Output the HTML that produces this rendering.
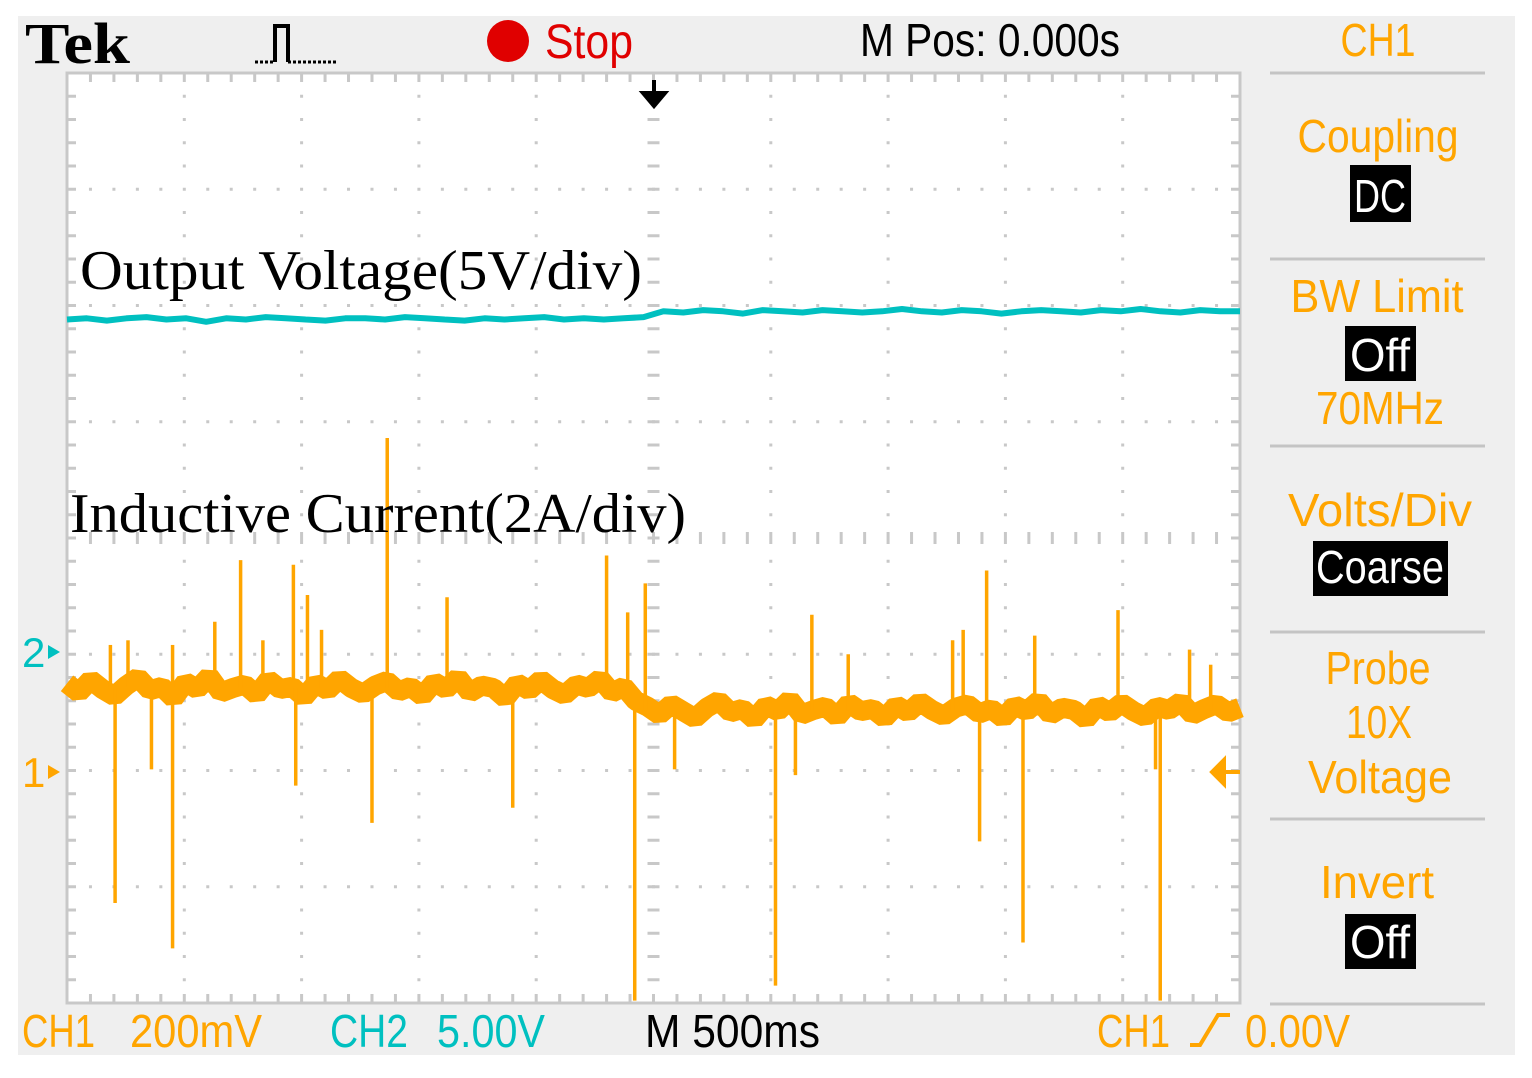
<!DOCTYPE html>
<html><head><meta charset="utf-8"><style>
html,body{margin:0;padding:0;background:#fff;}
svg{display:block;}
.osc{font-family:"Liberation Sans",sans-serif;}
</style></head><body>
<svg id="scope" width="1532" height="1078" viewBox="0 0 1532 1078" xmlns="http://www.w3.org/2000/svg">
<rect x="18" y="16" width="1497" height="1039" fill="#efefef"/>
<rect x="67" y="73" width="1173" height="930" fill="#fff"/>
<g id="grid"></g>
<rect x="67" y="73" width="1173" height="930" fill="none" stroke="#c8c8c8" stroke-width="3"/>
<g id="traces"></g>

<text x="25" y="63" font-family="Liberation Serif, serif" font-weight="bold" font-size="58" textLength="105" lengthAdjust="spacingAndGlyphs">Tek</text>
<path d="M255,62 H275 M288,62 H338" fill="none" stroke="#000" stroke-width="3" stroke-dasharray="3 2"/>
<path d="M275,62 V26 H288 V62" fill="none" stroke="#000" stroke-width="4"/>
<circle cx="508" cy="41" r="21" fill="#e00000"/>
<text class="osc" x="545" y="58" font-size="48" fill="#e00000" textLength="88" lengthAdjust="spacingAndGlyphs">Stop</text>
<text class="osc" x="860" y="56" font-size="46" fill="#000" textLength="260" lengthAdjust="spacingAndGlyphs">M Pos: 0.000s</text>
<path d="M654,80 V98 M643,93 L654,106 L665,93 Z" stroke="#000" stroke-width="4" fill="#000"/>

<text x="80" y="289" font-family="Liberation Serif, serif" font-size="56" fill="#000" textLength="562" lengthAdjust="spacingAndGlyphs">Output Voltage(5V/div)</text>
<text x="70" y="532" font-family="Liberation Serif, serif" font-size="56" fill="#000" textLength="616" lengthAdjust="spacingAndGlyphs">Inductive Current(2A/div)</text>

<text class="osc" x="22" y="667" font-size="42" fill="#00c0c0">2</text>
<path d="M48,645 L60,652 L48,659 Z" fill="#00c0c0"/>
<text class="osc" x="22" y="787" font-size="42" fill="#ffa500">1</text>
<path d="M48,765 L60,772 L48,779 Z" fill="#ffa500"/>
<path d="M1212,772 L1224,760 L1224,784 Z M1222,772 H1240" fill="#ffa500" stroke="#ffa500" stroke-width="4"/>

<g class="osc">
<text x="1378" y="56" font-size="46" fill="#ffa500" text-anchor="middle" textLength="75" lengthAdjust="spacingAndGlyphs">CH1</text>
<g stroke="#c4c4c4" stroke-width="3">
<line x1="1270" y1="73" x2="1485" y2="73"/><line x1="1270" y1="259" x2="1485" y2="259"/><line x1="1270" y1="446" x2="1485" y2="446"/><line x1="1270" y1="632" x2="1485" y2="632"/><line x1="1270" y1="819" x2="1485" y2="819"/><line x1="1270" y1="1004" x2="1485" y2="1004"/>
</g>
<text x="1378" y="152" font-size="46" fill="#ffa500" text-anchor="middle" textLength="161" lengthAdjust="spacingAndGlyphs">Coupling</text>
<rect x="1350" y="165" width="61" height="57" fill="#000"/>
<text x="1380" y="212" font-size="46" fill="#fff" text-anchor="middle" textLength="52" lengthAdjust="spacingAndGlyphs">DC</text>
<text x="1377" y="312" font-size="46" fill="#ffa500" text-anchor="middle" textLength="173" lengthAdjust="spacingAndGlyphs">BW Limit</text>
<rect x="1345" y="326" width="71" height="55" fill="#000"/>
<text x="1380" y="371" font-size="46" fill="#fff" text-anchor="middle" textLength="60" lengthAdjust="spacingAndGlyphs">Off</text>
<text x="1380" y="424" font-size="46" fill="#ffa500" text-anchor="middle" textLength="128" lengthAdjust="spacingAndGlyphs">70MHz</text>
<text x="1380" y="526" font-size="46" fill="#ffa500" text-anchor="middle" textLength="184" lengthAdjust="spacingAndGlyphs">Volts/Div</text>
<rect x="1313" y="541" width="135" height="55" fill="#000"/>
<text x="1380" y="583" font-size="46" fill="#fff" text-anchor="middle" textLength="128" lengthAdjust="spacingAndGlyphs">Coarse</text>
<text x="1378" y="684" font-size="46" fill="#ffa500" text-anchor="middle" textLength="105" lengthAdjust="spacingAndGlyphs">Probe</text>
<text x="1379" y="738" font-size="46" fill="#ffa500" text-anchor="middle" textLength="66" lengthAdjust="spacingAndGlyphs">10X</text>
<text x="1380" y="793" font-size="46" fill="#ffa500" text-anchor="middle" textLength="144" lengthAdjust="spacingAndGlyphs">Voltage</text>
<text x="1377" y="898" font-size="46" fill="#ffa500" text-anchor="middle" textLength="114" lengthAdjust="spacingAndGlyphs">Invert</text>
<rect x="1345" y="914" width="71" height="55" fill="#000"/>
<text x="1380" y="958" font-size="46" fill="#fff" text-anchor="middle" textLength="60" lengthAdjust="spacingAndGlyphs">Off</text>
</g>

<g class="osc" font-size="46">
<text x="22" y="1047" fill="#ffa500" textLength="73" lengthAdjust="spacingAndGlyphs">CH1</text>
<text x="130" y="1047" fill="#ffa500" textLength="132" lengthAdjust="spacingAndGlyphs">200mV</text>
<text x="330" y="1047" fill="#00c0c0" textLength="78" lengthAdjust="spacingAndGlyphs">CH2</text>
<text x="437" y="1047" fill="#00c0c0" textLength="108" lengthAdjust="spacingAndGlyphs">5.00V</text>
<text x="645" y="1047" fill="#000" textLength="175" lengthAdjust="spacingAndGlyphs">M 500ms</text>
<text x="1097" y="1047" fill="#ffa500" textLength="73" lengthAdjust="spacingAndGlyphs">CH1</text>
<path d="M1190,1045 H1200 L1218,1015 H1230" fill="none" stroke="#ffa500" stroke-width="4"/>
<text x="1245" y="1047" fill="#ffa500" textLength="105" lengthAdjust="spacingAndGlyphs">0.00V</text>
</g>
</svg>
<script>
// CH1 (inductive current) samples, in divisions relative to screen center, evenly across 10 time divisions
const ch1Samples = [-1.25,-1.33,-1.22,-1.30,-1.36,-1.27,-1.20,-1.31,-1.28,-1.38,-1.24,-1.30,-1.19,-1.33,-1.29,-1.26,-1.35,-1.22,-1.30,-1.28,-1.37,-1.25,-1.31,-1.21,-1.29,-1.34,-1.27,-1.23,-1.32,-1.28,-1.36,-1.24,-1.30,-1.20,-1.33,-1.27,-1.29,-1.38,-1.25,-1.31,-1.22,-1.30,-1.35,-1.26,-1.29,-1.21,-1.33,-1.28,-1.40,
-1.45,-1.52,-1.43,-1.49,-1.55,-1.46,-1.40,-1.50,-1.47,-1.56,-1.44,-1.49,-1.39,-1.52,-1.48,-1.45,-1.54,-1.42,-1.49,-1.47,-1.55,-1.44,-1.50,-1.41,-1.48,-1.53,-1.46,-1.43,-1.51,-1.47,-1.55,-1.44,-1.49,-1.40,-1.52,-1.46,-1.48,-1.56,-1.44,-1.50,-1.42,-1.49,-1.54,-1.45,-1.48,-1.41,-1.52,-1.47,-1.43,-1.50,-1.46];
// CH1 spike times (divisions from left) and peak values (divisions from center)
const spikeTimes = [0.37,0.52,0.90,1.26,1.48,1.67,1.93,2.05,2.17,2.73,3.24,4.60,4.78,4.93,6.35,6.66,7.55,7.64,7.84,8.25,8.96,9.57,9.75,
0.41,0.90,0.72,1.95,2.60,3.80,4.84,5.18,6.04,6.21,7.78,8.15,9.32,9.28];
const spikeValues = [-0.92,-0.88,-0.92,-0.72,-0.19,-0.88,-0.23,-0.49,-0.79,0.86,-0.51,-0.15,-0.64,-0.39,-0.66,-1.00,-0.88,-0.79,-0.28,-0.84,-0.62,-0.96,-1.09,
-3.14,-3.53,-1.99,-2.13,-2.45,-2.32,-3.98,-1.99,-3.85,-2.04,-2.61,-3.48,-3.98,-1.99];
// CH2 (output voltage) samples, in divisions relative to center
const ch2Samples = [1.88,1.89,1.87,1.89,1.90,1.88,1.89,1.86,1.89,1.88,1.90,1.89,1.88,1.87,1.89,1.89,1.88,1.90,1.89,1.88,1.87,1.89,1.88,1.89,1.90,1.88,1.89,1.88,1.89,1.90,
1.95,1.94,1.96,1.95,1.93,1.96,1.95,1.94,1.96,1.95,1.94,1.95,1.97,1.95,1.94,1.96,1.95,1.93,1.95,1.96,1.95,1.94,1.96,1.95,1.97,1.95,1.94,1.96,1.95,1.95];
const xDivs = [0,1,2,3,4,5,6,7,8,9,10];
const yDivs = [-4,-3,-2,-1,0,1,2,3,4];

const NS = 'http://www.w3.org/2000/svg';
const X0 = 67, X1 = 1240, Y0 = 73, Y1 = 1003;
const divW = (X1 - X0) / 10, divH = (Y1 - Y0) / 8, yC = (Y0 + Y1) / 2;
function xs(t){ return X0 + t * divW; }
function ys(v){ return yC - v * divH; }

const grid = document.getElementById('grid');
function dot(x, y, w, h){
  const r = document.createElementNS(NS, 'rect');
  r.setAttribute('x', x - w/2); r.setAttribute('y', y - h/2);
  r.setAttribute('width', w); r.setAttribute('height', h);
  r.setAttribute('fill', '#c8c8c8');
  
  
  grid.appendChild(r);
}
xDivs.forEach(function(d){
  for (let k = 1; k < 40; k++) {
    const y = Y0 + k * divH / 5;
    if (d === 5) dot(xs(d), y, 12, 3);
    else if (d > 0 && d < 10 && k % 5 !== 0) dot(xs(d), y, 3, 3);
    else if (d === 0 || d === 10) dot(d === 0 ? X0 + 5 : X1 - 5, y, 8, 3);
  }
});
yDivs.forEach(function(d){
  for (let k = 1; k < 50; k++) {
    const x = X0 + k * divW / 5;
    if (d === 0) dot(x, ys(d), 3, 12);
    else if (d !== -4 && d !== 4) dot(x, ys(d), 3, 3);
    else dot(x, d === 4 ? Y0 + 5 : Y1 - 5, 3, 8);
  }
});

const traces = document.getElementById('traces');
function poly(samples, color, width, name){
  const n = samples.length;
  const pts = samples.map(function(v, i){ return xs(i * 10 / (n - 1)).toFixed(1) + ',' + ys(v).toFixed(1); }).join(' ');
  const p = document.createElementNS(NS, 'polyline');
  p.setAttribute('points', pts);
  p.setAttribute('fill', 'none');
  p.setAttribute('stroke', color);
  p.setAttribute('stroke-width', width);
  p.setAttribute('stroke-linejoin', 'bevel');
  
  
  traces.appendChild(p);
}
poly(ch2Samples, '#00c0c0', 6, 'output-voltage-trace');
poly(ch1Samples, '#ffa500', 20, 'inductive-current-trace');
spikeTimes.forEach(function(t, i){
  const base = t < 4.9 ? -1.29 : -1.48;
  const l = document.createElementNS(NS, 'line');
  l.setAttribute('x1', xs(t)); l.setAttribute('x2', xs(t));
  l.setAttribute('y1', ys(base)); l.setAttribute('y2', ys(spikeValues[i]));
  l.setAttribute('stroke', '#ffa500');
  l.setAttribute('stroke-width', 3.5);
  
  
  traces.appendChild(l);
});
</script>
</body></html>
